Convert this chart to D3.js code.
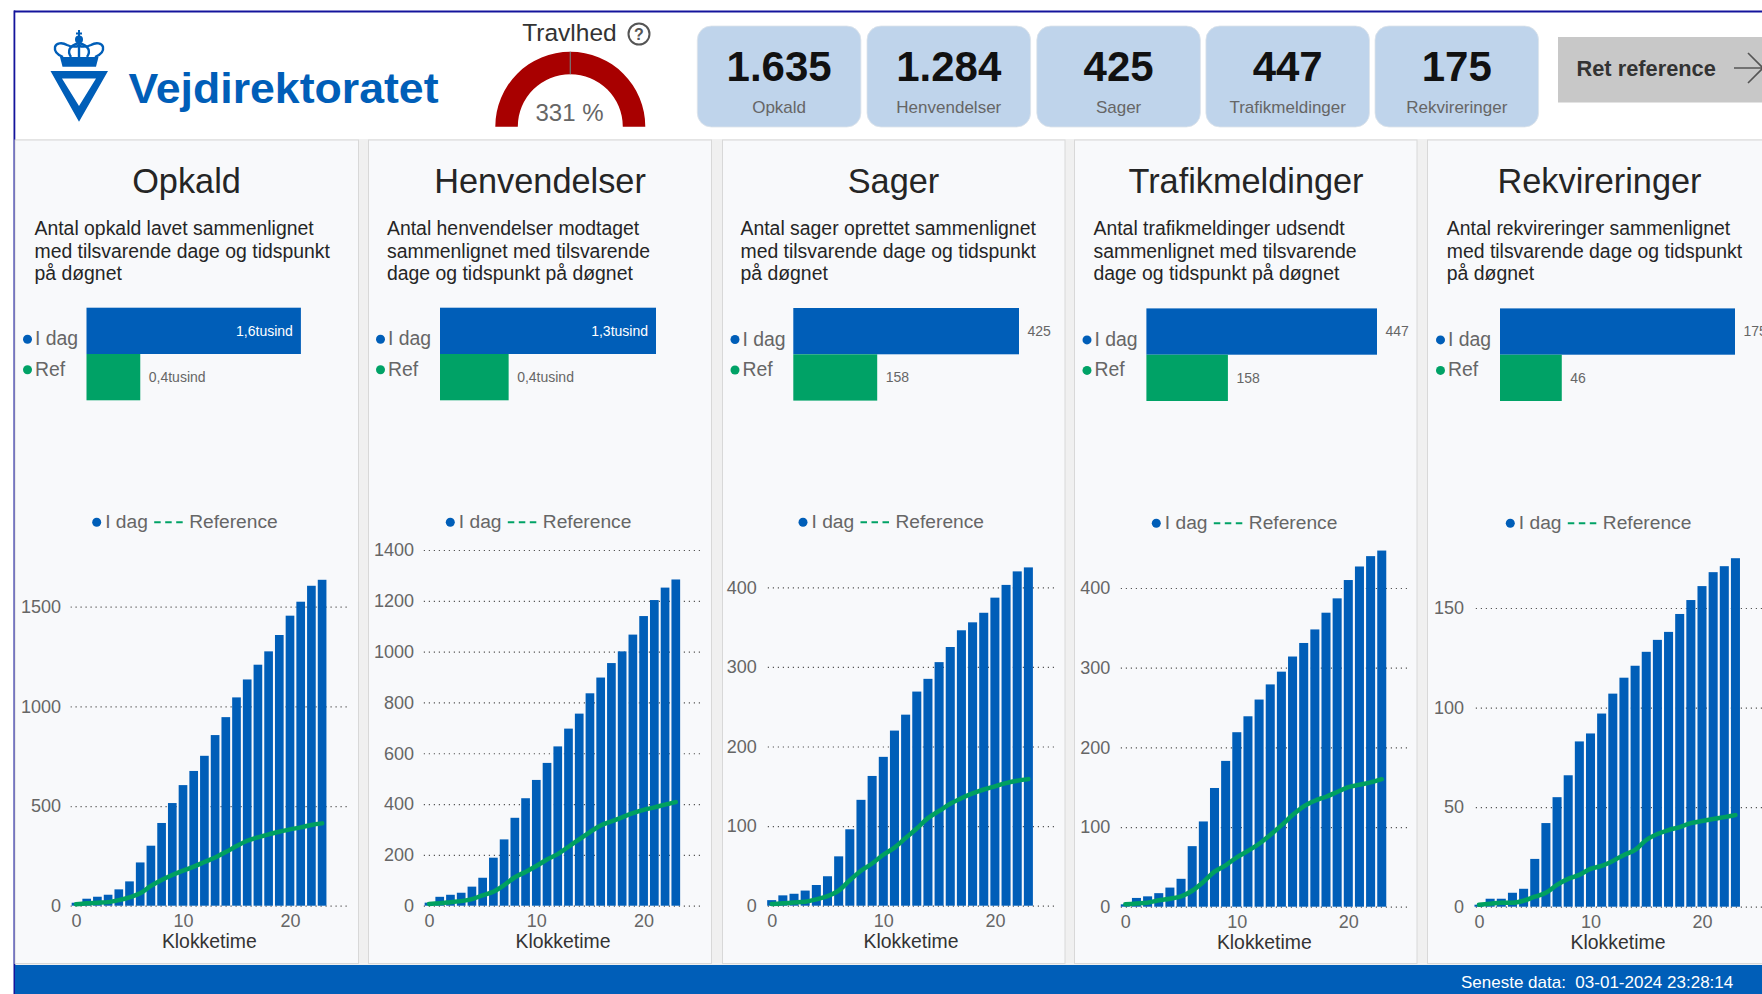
<!DOCTYPE html>
<html>
<head>
<meta charset="utf-8">
<title>Vejdirektoratet</title>
<script src="https://cdn.jsdelivr.net/npm/d3@7"></script>
<style>
  html, body { margin: 0; padding: 0; background: #fff; overflow: hidden; }
  svg { display: block; font-family: "Liberation Sans", Arial, sans-serif; }
</style>
</head>
<body>
<svg id="chart" width="1762" height="994"></svg>
<script>
// Data
const titles = ["Opkald", "Henvendelser", "Sager", "Trafikmeldinger", "Rekvireringer"];
const cardValues = ["1.635", "1.284", "425", "447", "175"];
const descriptions = [
  ["Antal opkald lavet sammenlignet", "med tilsvarende dage og tidspunkt", "på døgnet"],
  ["Antal henvendelser modtaget", "sammenlignet med tilsvarende", "dage og tidspunkt på døgnet"],
  ["Antal sager oprettet sammenlignet", "med tilsvarende dage og tidspunkt", "på døgnet"],
  ["Antal trafikmeldinger udsendt", "sammenlignet med tilsvarende", "dage og tidspunkt på døgnet"],
  ["Antal rekvireringer sammenlignet", "med tilsvarende dage og tidspunkt", "på døgnet"]
];
const hours = d3.range(24);

const todayTotals = [1635, 1284, 425, 447, 175];
const refTotals = [410, 408, 158, 158, 46];
const todayLabels = ["1,6tusind", "1,3tusind", "425", "447", "175"];
const refLabels = ["0,4tusind", "0,4tusind", "158", "158", "46"];

const opkaldToday = [15, 35, 45, 55, 82, 122, 217, 301, 415, 515, 605, 676, 752, 856, 946, 1045, 1135, 1209, 1276, 1358, 1455, 1525, 1605, 1635];
const opkaldRef = [7, 12, 15, 18, 28, 42, 62, 99, 129, 154, 176, 196, 219, 242, 269, 299, 326, 343, 358, 371, 383, 393, 405, 413];
const henvToday = [12, 35, 43, 51, 75, 110, 189, 261, 346, 423, 495, 562, 627, 697, 756, 836, 898, 955, 1001, 1067, 1140, 1203, 1252, 1284];
const henvRef = [7, 10, 14, 18, 26, 41, 55, 81, 112, 133, 156, 182, 203, 232, 261, 290, 316, 332, 348, 364, 377, 387, 398, 408];
const sagerToday = [7, 13, 15, 19, 26, 37, 62, 96, 133, 163, 187, 220, 240, 269, 285, 306, 325, 346, 356, 368, 387, 403, 420, 425];
const sagerRef = [2, 3, 4, 5, 8, 12, 19, 32, 44, 53, 64, 73, 85, 97, 110, 119, 128, 135, 141, 146, 150, 154, 157, 159];
const trafikToday = [3, 11, 13, 17, 24, 35, 76, 107, 149, 183, 219, 239, 260, 279, 295, 314, 331, 348, 369, 387, 410, 427, 440, 447];
const trafikRef = [3, 4, 5, 8, 10, 13, 20, 31, 44, 52, 62, 70, 79, 90, 102, 115, 126, 133, 138, 144, 150, 153, 156, 160];
const rekvToday = [1, 4, 4, 7, 9, 24, 42, 55, 66, 83, 87, 97, 107, 115, 121, 128, 134, 138, 147, 154, 161, 168, 171, 175];
const rekvRef = [1, 1.5, 2, 2, 3, 5, 7, 11, 14, 16, 19, 20.5, 23, 26, 28.5, 33.5, 36.5, 38.5, 40, 42, 43, 44, 45, 46];

const todaySeries = [opkaldToday, henvToday, sagerToday, trafikToday, rekvToday];
const refSeries = [opkaldRef, henvRef, sagerRef, trafikRef, rekvRef];

const yTicks = [
  [0, 500, 1000, 1500],
  [0, 200, 400, 600, 800, 1000, 1200, 1400],
  [0, 100, 200, 300, 400],
  [0, 100, 200, 300, 400],
  [0, 50, 100, 150]
];
const xTicks = [0, 10, 20];

const gaugeValue = 331;
const gaugeMax = 331;
const gaugeTarget = 165.5;

// Layout, per panel
const panelLeft = [15, 368.5, 722.5, 1074.5, 1427.5];
const panelRight = [358.5, 711.5, 1065, 1417, 1772];
const titleX = [186.5, 540, 893.5, 1246, 1599.5];
const descX = [34.5, 387, 740.5, 1093.5, 1446.8];
const hbarLeft = [86.5, 440, 793.3, 1146.4, 1500];
const hbarWidth = [214.4, 216, 225.7, 230.6, 235];
const hbarTop = [307.7, 307.7, 308, 308.4, 308.4];
const hbarDot = [27.5, 380.5, 735, 1087, 1440.5];
const legendDot = [96.7, 450.3, 803, 1156.3, 1510.3];
const legendY = [522.3, 522.3, 522.3, 523.3, 523.3];
const zeroX = [76, 429, 771.7, 1125.3, 1479];
const stepX = [10.7, 10.73, 11.16, 11.15, 11.15];
const gridLeft = [70.7, 423.3, 766, 1119, 1473];
const gridRight = [346.7, 700, 1054, 1407, 1762];
const zeroY = [905.7, 905.7, 905.7, 906.7, 906.7];
const topTickY = [606.7, 550, 587.3, 588, 608];
const klokkeX = [209.3, 563, 911, 1264.3, 1618];
const cardLeft = [697.3, 867, 1036.8, 1205.9, 1375];

const BLUE = "#005eb8";
const GREEN = "#00a266";
const LINE_GREEN = "#00a060";

const svg = d3.select("#chart");

// Backgrounds
svg.append("rect").attr("x", 15).attr("y", 13).attr("width", 1747).attr("height", 981).attr("fill", "#f0f0f0");
svg.append("rect").attr("x", 15).attr("y", 13).attr("width", 1747).attr("height", 126).attr("fill", "#fff");
svg.append("rect").attr("x", 14).attr("y", 10.5).attr("width", 1748).attr("height", 2).attr("fill", "#14149c");
svg.append("rect").attr("x", 13.5).attr("y", 10.5).attr("width", 1.8).attr("height", 984).attr("fill", "#14149c");

drawLogo();
drawGauge();
drawCards();
drawButton();
titles.forEach((t, i) => drawPanel(i));

// Footer
svg.append("rect").attr("x", 15).attr("y", 965).attr("width", 1747).attr("height", 29).attr("fill", BLUE);
svg.append("text").attr("x", 1461).attr("y", 987.5).attr("fill", "#fff")
  .attr("font-size", 17).attr("xml:space", "preserve").text("Seneste data:  03-01-2024 23:28:14");

function drawLogo() {
  const g = svg.append("g").attr("fill", BLUE);
  // triangle
  g.append("path").attr("fill-rule", "evenodd")
    .attr("d", "M50.5 71H108L79 121.7ZM62 78.5L79 106L96 78.5Z");
  // crown
  g.append("path").attr("d", "M60 57H98.5L96 66.7H62.5Z");
  const arches = g.append("g").attr("fill", "none").attr("stroke", BLUE).attr("stroke-width", 2.4);
  arches.append("path").attr("d", "M63 57C58 55 54 52 55 47C56 43 62 42 67 45C71 47 75 47 79 46C83 47 87 47 91 45C96 42 102 43 103 47C104 52 100 55 95 57");
  arches.append("path").attr("d", "M71 57C67 51 69 46 79 43C89 46 91 51 87 57");
  arches.append("path").attr("d", "M79 43V57");
  g.append("circle").attr("cx", 79).attr("cy", 39.5).attr("r", 4);
  g.append("path").attr("d", "M78 30H80V32.5H82V34.5H80V37H78V34.5H76V32.5H78Z");
  g.append("text").attr("x", 128.5).attr("y", 102.5).attr("font-size", 42).attr("font-weight", 700)
    .attr("textLength", 310).attr("lengthAdjust", "spacingAndGlyphs").text("Vejdirektoratet");
}

function drawGauge() {
  const cx = 570.3, cy = 126.7;
  const angle = d3.scaleLinear().domain([0, gaugeMax]).range([-Math.PI / 2, Math.PI / 2]);
  const arc = d3.arc().innerRadius(52.5).outerRadius(75);
  const g = svg.append("g").attr("transform", `translate(${cx},${cy})`);
  g.append("path").attr("fill", "#a80000")
    .attr("d", arc({ startAngle: angle(0), endAngle: angle(gaugeValue) }));
  const a = angle(gaugeTarget);
  g.append("line").attr("stroke", "#777").attr("stroke-width", 1.2)
    .attr("x1", 52.5 * Math.sin(a)).attr("y1", -52.5 * Math.cos(a))
    .attr("x2", 75 * Math.sin(a)).attr("y2", -75 * Math.cos(a));
  svg.append("text").attr("x", 569.5).attr("y", 121).attr("text-anchor", "middle")
    .attr("font-size", 24).attr("fill", "#666").text(gaugeValue + " %");
  svg.append("text").attr("x", 569.5).attr("y", 41).attr("text-anchor", "middle")
    .attr("font-size", 24.5).attr("fill", "#333").text("Travlhed");
  svg.append("circle").attr("cx", 639).attr("cy", 34).attr("r", 10.5)
    .attr("fill", "none").attr("stroke", "#555").attr("stroke-width", 2);
  svg.append("text").attr("x", 639).attr("y", 40).attr("text-anchor", "middle")
    .attr("font-size", 16).attr("font-weight", 700).attr("fill", "#555").text("?");
}

function drawCards() {
  const g = svg.append("g").selectAll("g").data(titles).join("g");
  g.append("rect").attr("x", (d, i) => cardLeft[i]).attr("y", 26).attr("width", 163.6).attr("height", 101)
    .attr("rx", 14).attr("fill", "#bfd4eb").attr("stroke", "#dde3ea").attr("stroke-width", 0.8);
  g.append("text").attr("x", (d, i) => cardLeft[i] + 81.8).attr("y", 81).attr("text-anchor", "middle")
    .attr("font-size", 42).attr("font-weight", 700).attr("fill", "#111").text((d, i) => cardValues[i]);
  g.append("text").attr("x", (d, i) => cardLeft[i] + 81.8).attr("y", 112.5).attr("text-anchor", "middle")
    .attr("font-size", 17).attr("fill", "#666").text(d => d);
}

function drawButton() {
  svg.append("rect").attr("x", 1558).attr("y", 37).attr("width", 204).attr("height", 65.5).attr("fill", "#c8c8c8");
  svg.append("text").attr("x", 1576.5).attr("y", 75.5).attr("font-size", 21.8).attr("font-weight", 700)
    .attr("fill", "#333").text("Ret reference");
  svg.append("path").attr("fill", "none").attr("stroke", "#555").attr("stroke-width", 1.6)
    .attr("d", "M1734 68H1762M1748 53L1763 68L1748 83");
}

function drawPanel(i) {
  const g = svg.append("g");
  g.append("rect")
    .attr("x", panelLeft[i]).attr("y", 140)
    .attr("width", panelRight[i] - panelLeft[i]).attr("height", 823.5)
    .attr("fill", "#f8f9fb").attr("stroke", "#d8d8d8");

  g.append("text").attr("x", titleX[i]).attr("y", 193).attr("text-anchor", "middle")
    .attr("font-size", 34.3).attr("fill", "#252525").text(titles[i]);

  g.selectAll(".desc").data(descriptions[i]).join("text")
    .attr("class", "desc")
    .attr("x", descX[i])
    .attr("y", (d, k) => 235 + k * 22.6)
    .attr("font-size", 19.4).attr("fill", "#252525").text(d => d);

  drawSummaryBars(g, i);
  drawLegend(g, i);
  drawHourly(g, i);
}

function drawSummaryBars(g, i) {
  const x = d3.scaleLinear().domain([0, todayTotals[i]]).range([0, hbarWidth[i]]);
  const rows = [
    { name: "I dag", value: todayTotals[i], label: todayLabels[i], color: BLUE },
    { name: "Ref", value: refTotals[i], label: refLabels[i], color: GREEN }
  ];
  const barH = 46.3;
  const isInside = d => d.label.length > 3 && d.value === todayTotals[i];
  const row = g.selectAll(".hbar").data(rows).join("g").attr("class", "hbar");
  row.append("rect")
    .attr("x", hbarLeft[i])
    .attr("y", (d, k) => hbarTop[i] + k * barH)
    .attr("width", d => x(d.value))
    .attr("height", barH)
    .attr("fill", d => d.color);
  // the "tusind" label of the big bar sits inside it, the others outside
  row.append("text")
    .attr("x", d => hbarLeft[i] + x(d.value) + (isInside(d) ? -8 : 8.5))
    .attr("text-anchor", d => isInside(d) ? "end" : "start")
    .attr("y", (d, k) => hbarTop[i] + k * barH + 28)
    .attr("font-size", 14)
    .attr("fill", d => isInside(d) ? "#fff" : "#666")
    .text(d => d.label);
  row.append("circle")
    .attr("cx", hbarDot[i])
    .attr("cy", (d, k) => hbarTop[i] + 31.5 + k * 30.5)
    .attr("r", 4.5)
    .attr("fill", d => d.color);
  row.append("text")
    .attr("x", hbarDot[i] + 7.5)
    .attr("y", (d, k) => hbarTop[i] + 37.5 + k * 30.5)
    .attr("font-size", 19.4).attr("fill", "#666")
    .text(d => d.name);
}

function drawLegend(g, i) {
  const x = legendDot[i], y = legendY[i];
  g.append("circle").attr("cx", x).attr("cy", y).attr("r", 4.5).attr("fill", BLUE);
  g.append("text").attr("x", x + 8.5).attr("y", y + 5.5).attr("font-size", 19.2).attr("fill", "#666").text("I dag");
  g.append("line").attr("x1", x + 57.5).attr("x2", x + 86).attr("y1", y).attr("y2", y)
    .attr("stroke", GREEN).attr("stroke-width", 2).attr("stroke-dasharray", "6.5 4.5");
  g.append("text").attr("x", x + 92.5).attr("y", y + 5.5).attr("font-size", 19.2).attr("fill", "#666").text("Reference");
}

function drawHourly(g, i) {
  const topTick = yTicks[i][yTicks[i].length - 1];
  const x = d3.scaleLinear().domain([0, 23]).range([zeroX[i], zeroX[i] + 23 * stepX[i]]);
  const y = d3.scaleLinear().domain([0, topTick]).range([zeroY[i], topTickY[i]]);

  // Horizontal dotted grid comes from the y axis' own ticks
  const yAxis = d3.axisLeft(y).tickValues(yTicks[i]).tickFormat(d3.format("d"))
    .tickSize(gridRight[i] - gridLeft[i]).tickPadding(0);
  const yG = g.append("g").attr("transform", `translate(${gridRight[i]},0)`).call(yAxis);
  yG.select(".domain").remove();
  yG.selectAll("line")
    .attr("stroke", "#555").attr("stroke-width", 1.2).attr("stroke-dasharray", "1.2 3.8");
  yG.selectAll("text")
    .attr("x", zeroX[i] - 15 - gridRight[i])
    .attr("font-size", 18).attr("font-family", "Liberation Sans").attr("fill", "#666");

  const xAxis = d3.axisBottom(x).tickValues(xTicks).tickSize(0).tickPadding(0);
  const xG = g.append("g").attr("transform", `translate(0,${zeroY[i] + 9})`).call(xAxis);
  xG.select(".domain").remove();
  xG.selectAll("text")
    .attr("font-size", 18).attr("font-family", "Liberation Sans").attr("fill", "#666");

  const barW = stepX[i] * 0.81;
  g.append("g").selectAll("rect").data(hours).join("rect")
    .attr("x", h => x(h) - barW / 2)
    .attr("width", barW)
    .attr("y", h => y(todaySeries[i][h]))
    .attr("height", h => zeroY[i] - y(todaySeries[i][h]))
    .attr("fill", BLUE);

  const line = d3.line().x(h => x(h)).y(h => y(refSeries[i][h])).curve(d3.curveMonotoneX);
  g.append("path").datum(hours).attr("d", line)
    .attr("fill", "none").attr("stroke", LINE_GREEN).attr("stroke-width", 4.5).attr("stroke-linecap", "round");

  g.append("text").attr("x", klokkeX[i]).attr("y", zeroY[i] + 42.5).attr("text-anchor", "middle")
    .attr("font-size", 19.4).attr("fill", "#333").text("Klokketime");
}
</script>
</body>
</html>
